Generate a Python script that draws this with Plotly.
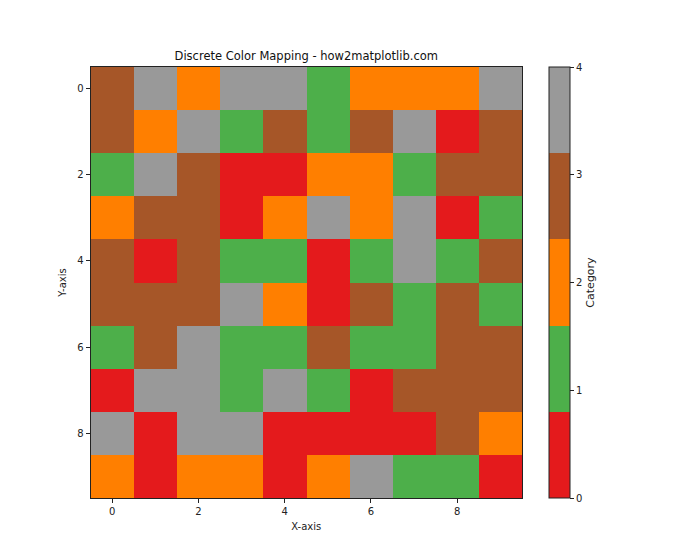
import plotly.graph_objects as go

categories = [0, 1, 2, 3, 4]
colors = ["#e41a1c", "#4daf4a", "#ff7f00", "#a65628", "#999999"]
x_vals = list(range(10))
y_vals = list(range(10))
grid = [
    [3, 4, 2, 4, 4, 1, 2, 2, 2, 4],
    [3, 2, 4, 1, 3, 1, 3, 4, 0, 3],
    [1, 4, 3, 0, 0, 2, 2, 1, 3, 3],
    [2, 3, 3, 0, 2, 4, 2, 4, 0, 1],
    [3, 0, 3, 1, 1, 0, 1, 4, 1, 3],
    [3, 3, 3, 4, 2, 0, 3, 1, 3, 1],
    [1, 3, 4, 1, 1, 3, 1, 1, 3, 3],
    [0, 4, 4, 1, 4, 1, 0, 3, 3, 3],
    [4, 0, 4, 4, 0, 0, 0, 0, 3, 2],
    [2, 0, 2, 2, 0, 2, 4, 1, 1, 0],
]
x_ticks = [0, 2, 4, 6, 8]
y_ticks = [0, 2, 4, 6, 8]

n = len(colors)
colorscale = []
for i, c in enumerate(colors):
    colorscale.append([i / n, c])
    colorscale.append([(i + 1) / n, c])

W, H = 700, 560
off = 8  # page body margin
L, R, T, B = 90.5 - off, 522 - off, 67 - off, 498 - off
cb_x, cb_w = 549 - off, 21

fig = go.Figure(go.Heatmap(
    z=grid, x=x_vals, y=y_vals,
    colorscale=colorscale, zmin=min(categories), zmax=max(categories),
    colorbar=dict(
        x=cb_x / W, xanchor="left", y=1 - B / H, yanchor="bottom",
        len=(B - T) / H, lenmode="fraction", thickness=cb_w, thicknessmode="pixels",
        outlinecolor="#222", outlinewidth=1,
        tickvals=categories, ticks="outside", ticklen=4, tickcolor="#222",
        tickfont=dict(size=10, color="#222"),
        title=dict(text="Category", side="right", font=dict(size=11, color="#222")),
        xpad=0, ypad=0,
    ),
    showscale=True,
))

axis_common = dict(
    showline=True, linecolor="#222", linewidth=1, mirror=True,
    ticks="outside", ticklen=4, tickcolor="#222", showgrid=False, zeroline=False,
    tickfont=dict(size=10, color="#222"),
)

fig.update_layout(
    width=W, height=H,
    margin=dict(l=0, r=0, t=0, b=0),
    paper_bgcolor="white", plot_bgcolor="white",
    font=dict(family="DejaVu Sans", color="#222"),
    title=dict(text="Discrete Color Mapping - how2matplotlib.com",
               x=(L + R) / 2 / W, xanchor="center", y=1 - (56 - off) / H, yanchor="middle",
               font=dict(size=11.5, color="#111")),
    xaxis=dict(domain=[L / W, R / W], range=[-0.5, 9.5], tickvals=x_ticks,
               title=dict(text="X-axis", font=dict(size=10), standoff=6), **axis_common),
    yaxis=dict(domain=[1 - B / H, 1 - T / H], range=[9.5, -0.5], tickvals=y_ticks,
               title=dict(text="Y-axis", font=dict(size=10), standoff=8), **axis_common),
)

fig.write_html("out.html")
